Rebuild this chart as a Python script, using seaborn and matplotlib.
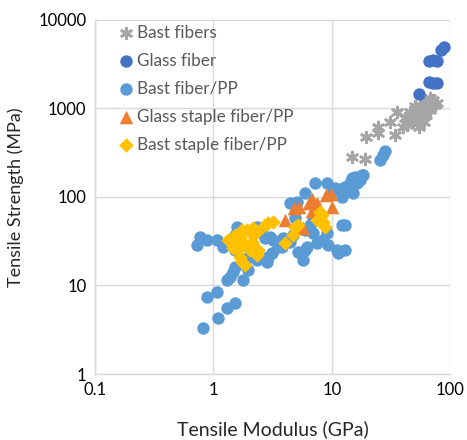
import matplotlib
matplotlib.use("Agg")
import matplotlib.pyplot as plt
import seaborn as sns
import pandas as pd

# ---- data (Tensile modulus GPa, tensile strength MPa) ----
bast_fibers_mod = [14.9, 19.2, 19.5, 24.7, 24.7, 31.2, 35.7, 34.3, 40.1,
                   43.4, 45.9, 47.8, 50.7, 52.7, 55.8, 55.8, 59.2, 61.5, 63.9,
                   65.2, 67.7, 70.5, 71.9, 74.7, 77.6, 48.7, 53.7, 58.1, 62.7,
                   45.9, 50.7, 41.7, 67.7, 60.4, 54.7]
bast_fibers_str = [283, 268, 476, 529, 618, 700, 905, 502, 618,
                   652, 741, 845, 781, 962, 890, 1096, 1013, 1247, 962,
                   1124, 1314, 1153, 1247, 1096, 1153, 703, 741, 781, 845,
                   913, 1067, 781, 962, 703, 618]

glass_fiber_mod = [88, 84, 66, 72, 78, 66, 72, 78, 55]
glass_fiber_str = [4900, 4600, 3450, 3500, 3400, 2000, 1950, 1950, 1450]

bast_pp_mod = [0.73, 0.78, 0.89, 1.08, 1.21, 1.31, 0.89, 1.08, 1.31, 1.10,
               0.82, 1.47, 1.39, 1.53, 1.79, 1.97, 1.59, 1.53, 2.35, 2.75,
               3.21, 2.91, 2.86, 1.53, 1.94, 1.86, 2.35, 3.82, 4.46, 4.73,
               5.21, 5.97, 6.98, 7.55, 8.48, 9.17, 9.34, 11.3, 13.0, 12.3,
               13.0, 5.97, 6.98, 4.46, 5.11, 5.97, 7.26, 9.17, 10.3, 12.3,
               13.0, 14.3, 15.8, 17.4, 18.4, 15.2, 25.7, 27.2, 28.3, 5.75,
               2.59, 3.03, 3.15, 3.54, 3.90, 4.92, 6.59, 6.21, 11.1, 12.5,
               10.7, 14.9, 16.4, 18.1, 1.53]
bast_pp_str = [28.7, 35.3, 32.7, 32.7, 27.2, 11.5, 7.4, 8.4, 5.6, 4.3,
               3.3, 14.2, 12.5, 6.3, 11.5, 15.0, 45.8, 37.2, 45.8, 34.4,
               32.7, 21.0, 18.4, 25.2, 20.5, 17.0, 19.4, 27.2, 31.0, 37.2,
               23.9, 25.2, 39.2, 30.2, 32.7, 39.2, 28.7, 23.3, 25.2, 48.3,
               48.3, 42.4, 59.4, 85.5, 87.9, 111, 144, 144, 120, 100,
               130, 144, 168, 156, 177, 111, 262, 298, 331, 19.4,
               44.6, 35.3, 23.3, 27.2, 34.4, 57.9, 48.3, 27.2, 25.2, 126,
               126, 163, 144, 177, 16.2]

glass_staple_mod = [4.05, 4.82, 5.32, 6.46, 6.84, 7.55, 6.84, 8.99, 9.91, 10.1, 5.75]
glass_staple_str = [55.0, 75.1, 77.1, 85.5, 94.9, 85.5, 69.5, 105, 108, 77.1, 44.6]

bast_staple_mod = [1.34, 1.47, 1.63, 1.69, 1.76, 1.86, 2.35, 2.40, 1.53, 1.76,
                   1.94, 2.18, 2.18, 2.35, 2.75, 2.91, 3.21, 4.05, 4.73, 4.92,
                   5.21, 8.0, 8.48, 8.81, 7.55, 8.32, 1.86, 2.05, 1.59, 2.13, 1.69]
bast_staple_str = [32.7, 26.5, 25.2, 21.0, 18.4, 17.0, 22.1, 25.2, 37.2, 42.4,
                   42.4, 37.2, 44.6, 40.3, 48.3, 50.8, 52.2, 30.2, 37.2, 45.8,
                   48.3, 67.7, 52.2, 45.8, 55.0, 62.7, 28.7, 25.2, 30.2, 31.0, 34.4]

series_names = ["Bast fibers", "Glass fiber", "Bast fiber/PP",
                "Glass staple fiber/PP", "Bast staple fiber/PP"]
x_ticks = [0.1, 1, 10, 100]
x_tick_labels = ["0.1", "1", "10", "100"]
y_ticks = [1, 10, 100, 1000, 10000]
y_tick_labels = ["1", "10", "100", "1000", "10000"]

colors = {"Bast fibers": "#A5A5A5", "Glass fiber": "#4472C4",
          "Bast fiber/PP": "#5B9BD5", "Glass staple fiber/PP": "#ED7D31",
          "Bast staple fiber/PP": "#FFC000"}

sns.set_style("white")
plt.rcParams['font.family'] = ['Lato', 'DejaVu Sans']

fig = plt.figure(figsize=(4.67, 4.40), dpi=100)
ax = fig.add_axes([0.203, 0.15, 0.761, 0.805])

data = [(bast_fibers_mod, bast_fibers_str), (glass_fiber_mod, glass_fiber_str),
        (bast_pp_mod, bast_pp_str), (glass_staple_mod, glass_staple_str),
        (bast_staple_mod, bast_staple_str)]

for name, (xm, ys) in zip(series_names, data):
    df = pd.DataFrame({"mod": xm, "str": ys})
    if name == "Bast fibers":
        sns.scatterplot(data=df, x="mod", y="str", ax=ax, marker=(6, 2, 0),
                        color=colors[name], s=60, linewidth=2.0, label=name, zorder=3)
    elif name == "Glass staple fiber/PP":
        sns.scatterplot(data=df, x="mod", y="str", ax=ax, marker="^",
                        color=colors[name], s=95, linewidth=0, label=name, zorder=3)
    elif name == "Bast staple fiber/PP":
        sns.scatterplot(data=df, x="mod", y="str", ax=ax, marker="D",
                        color=colors[name], s=55, linewidth=0, label=name, zorder=3)
    else:
        sns.scatterplot(data=df, x="mod", y="str", ax=ax, marker="o",
                        color=colors[name], s=80, linewidth=0, label=name, zorder=3)

ax.set_xscale("log")
ax.set_yscale("log")
ax.set_xlim(0.1, 100)
ax.set_ylim(1, 10000)
ax.set_xticks(x_ticks)
ax.set_xticklabels(x_tick_labels)
ax.set_yticks(y_ticks)
ax.set_yticklabels(y_tick_labels)
ax.minorticks_off()
ax.tick_params(axis="both", length=0, labelsize=12, colors="#000000", pad=6)
ax.grid(True, which="major", color="#D9D9D9", linewidth=1.0, zorder=0)
ax.set_axisbelow(True)
for side in ["top", "right"]:
    ax.spines[side].set_visible(False)
for side in ["left", "bottom"]:
    ax.spines[side].set_color("#D9D9D9")
    ax.spines[side].set_linewidth(1.0)

ax.set_xlabel("Tensile Modulus (GPa)", fontsize=14, labelpad=16)
ax.set_ylabel("Tensile Strength (MPa)", fontsize=13, labelpad=10)

leg = ax.legend(loc="upper left", bbox_to_anchor=(0.04, 1.005), frameon=False,
                fontsize=12.3, labelspacing=0.7, handletextpad=0.05,
                borderaxespad=0.0, labelcolor="#595959", handlelength=1.2)

fig.savefig("out.png", dpi=100)
